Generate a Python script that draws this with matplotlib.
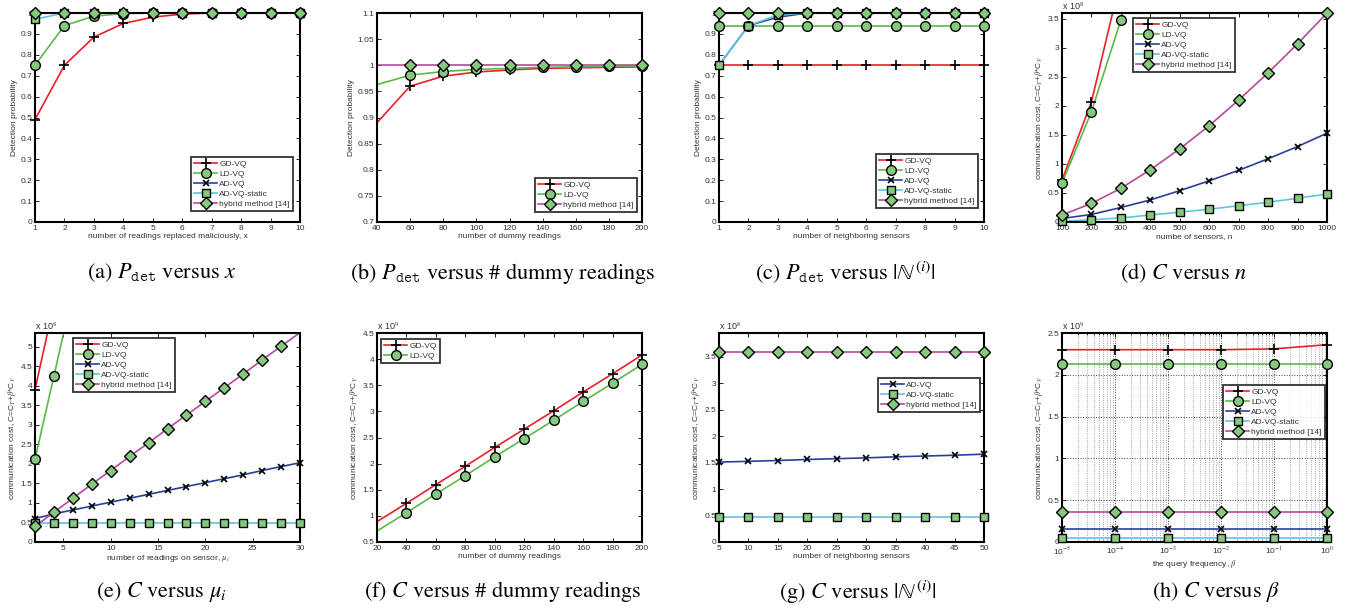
import numpy as np
import matplotlib
matplotlib.use("Agg")
import matplotlib.pyplot as plt
from matplotlib.lines import Line2D

plt.rcParams['font.family'] = ['Liberation Sans', 'DejaVu Sans']
plt.rcParams['mathtext.fontset'] = 'stix'
plt.rcParams['font.size'] = 6

W, H = 1354, 610

# ---------------- data ----------------
labels = ['GD-VQ', 'LD-VQ', 'AD-VQ', 'AD-VQ-static', 'hybrid method [14]']

# (a) detection probability vs x
a_x = [1, 2, 3, 4, 5, 6, 7, 8, 9, 10]
a_gd = [0.49, 0.75, 0.885, 0.95, 0.98, 0.995, 1.0, 1.0, 1.0, 1.0]
a_ld = [0.75, 0.94, 0.985, 0.997, 1.0, 1.0, 1.0, 1.0, 1.0, 1.0]
a_ad = [1.0] * 10
a_st = [0.97, 1.0, 1.0, 1.0, 1.0, 1.0, 1.0, 1.0, 1.0, 1.0]
a_hy = [1.0] * 10

# (b) detection probability vs number of dummy readings
b_x = [40, 60, 80, 100, 120, 140, 160, 180, 200]
b_gd = [0.89, 0.96, 0.979, 0.987, 0.991, 0.994, 0.995, 0.996, 0.997]
b_ld = [0.963, 0.981, 0.988, 0.992, 0.994, 0.996, 0.997, 0.998, 0.999]
b_hy = [1.0] * 9

# (c) detection probability vs neighboring sensors
c_x = [1, 2, 3, 4, 5, 6, 7, 8, 9, 10]
c_gd = [0.75] * 10
c_ld = [0.94] * 10
c_ad = [0.75, 0.94, 0.98, 1.0, 1.0, 1.0, 1.0, 1.0, 1.0, 1.0]
c_st = [0.75, 0.94, 0.99, 1.0, 1.0, 1.0, 1.0, 1.0, 1.0, 1.0]
c_hy = [1.0] * 10

# (d) communication cost (x1e8) vs number of sensors
d_x = [100, 200, 300, 400, 500, 600, 700, 800, 900, 1000]
d_gd = [0.72, 2.07, 4.2, 7.0, 10.5, 14.7, 19.6, 25.2, 31.5, 38.5]
d_ld = [0.67, 1.90, 3.48, 5.6, 8.2, 11.3, 14.9, 19.0, 23.6, 28.7]
d_ad = [0.06, 0.13, 0.25, 0.38, 0.54, 0.71, 0.89, 1.09, 1.30, 1.53]
d_st = [0.01, 0.04, 0.07, 0.12, 0.17, 0.22, 0.28, 0.34, 0.41, 0.48]
d_hy = [0.12, 0.32, 0.58, 0.90, 1.26, 1.66, 2.10, 2.57, 3.07, 3.60]

# (e) communication cost (x1e8) vs readings on sensor
e_x = [2, 4, 6, 8, 10, 12, 14, 16, 18, 20, 22, 24, 26, 28, 30]
e_gd = [3.9, 6.1, 8.3, 10.5, 12.7, 14.9, 17.1, 19.3, 21.5, 23.7, 25.9, 28.1, 30.3, 32.5, 34.7]
e_ld = [2.12, 4.25, 6.4, 8.5, 10.6, 12.7, 14.8, 16.9, 19.0, 21.1, 23.2, 25.3, 27.4, 29.5, 31.6]
e_ad = [0.60, 0.72, 0.82, 0.92, 1.02, 1.12, 1.22, 1.32, 1.42, 1.52, 1.62, 1.72, 1.83, 1.93, 2.03]
e_st = [0.48] * 15
e_hy = [0.40, 0.76, 1.12, 1.48, 1.83, 2.19, 2.54, 2.90, 3.25, 3.60, 3.95, 4.30, 4.66, 5.01, 5.36]

# (f) communication cost (x1e9) vs number of dummy readings
f_x = [20, 40, 60, 80, 100, 120, 140, 160, 180, 200]
f_gd = [0.89, 1.24, 1.60, 1.95, 2.31, 2.66, 3.01, 3.37, 3.72, 4.08]
f_ld = [0.71, 1.06, 1.42, 1.77, 2.13, 2.48, 2.83, 3.19, 3.54, 3.90]

# (g) communication cost (x1e8) vs neighboring sensors
g_x = [5, 10, 15, 20, 25, 30, 35, 40, 45, 50]
g_ad = [1.51, 1.525, 1.54, 1.56, 1.575, 1.59, 1.61, 1.625, 1.64, 1.66]
g_st = [0.48] * 10
g_hy = [3.60] * 10

# (h) communication cost (x1e9) vs query frequency
h_x = [1e-5, 1e-4, 1e-3, 1e-2, 1e-1, 1e0]
h_gd = [2.30, 2.30, 2.30, 2.30, 2.31, 2.36]
h_ld = [2.13] * 6
h_ad = [0.155] * 6
h_st = [0.05] * 6
h_hy = [0.36] * 6

# ---------------- styles ----------------
FACE = '#86c97e'
STY = {
    'GD-VQ': dict(color='#e8202a', marker='+', mfc='none', mec='black', ms=7.5, mew=1.2),
    'LD-VQ': dict(color='#5cb84a', marker='o', mfc=FACE, mec='black', ms=7, mew=1.0),
    'AD-VQ': dict(color='#2a3f99', marker='x', mfc='none', mec='black', ms=5, mew=1.2),
    'AD-VQ-static': dict(color='#5dc6e0', marker='s', mfc=FACE, mec='black', ms=6, mew=1.0),
    'hybrid method [14]': dict(color='#b8489c', marker='D', mfc=FACE, mec='black', ms=6, mew=1.0),
}
LW = 1.2

fig = plt.figure(figsize=(W / 100, H / 100), dpi=100)


def make_ax(l, t, w, h):
    ax = fig.add_axes([l / W, 1 - (t + h) / H, w / W, h / H])
    for s in ax.spines.values():
        s.set_linewidth(1.5)
    ax.tick_params(direction='in', top=True, right=True, length=3, width=0.6,
                   labelsize=6, pad=2, colors='black', labelcolor='#333333')
    return ax


def series(ax, x, y, name, ytop, mstart=0):
    st = STY[name]
    x = np.asarray(x, float)
    y = np.asarray(y, float)
    ax.plot(x, y, color=st['color'], lw=LW, zorder=2, clip_on=True)
    xm, ym = x[mstart:], y[mstart:]
    keep = ym <= ytop * 1.001
    ax.plot(xm[keep], ym[keep], ls='none', marker=st['marker'], mfc=st['mfc'],
            mec=st['mec'], ms=st['ms'], mew=st['mew'], zorder=3, clip_on=False)


def legend(ax, names, x0, y0):
    hs = []
    for n in names:
        st = STY[n]
        hs.append(Line2D([], [], color=st['color'], lw=LW, marker=st['marker'],
                         mfc=st['mfc'], mec=st['mec'], ms=st['ms'], mew=st['mew']))
    lg = ax.legend(hs, names, loc='upper left', bbox_to_anchor=(x0 / W, 1 - y0 / H),
                   bbox_transform=fig.transFigure, borderaxespad=0, fontsize=6,
                   frameon=True, fancybox=False, edgecolor='black', handlelength=2.7,
                   handletextpad=0.3, labelspacing=0.25, borderpad=0.4,
                   numpoints=1)
    lg.get_frame().set_linewidth(1.3)
    lg.set_zorder(10)
    for t in lg.get_texts():
        t.set_color('#333333')


def scale_label(ax, txt):
    ax.text(0.0, 1.005, txt, transform=ax.transAxes, ha='left', va='bottom',
            fontsize=6.5, color='#333333')


def caption(xc, yc, txt):
    fig.text(xc / W, 1 - yc / H, txt, ha='center', va='center', fontsize=16,
             family='STIXGeneral')


COST = r'communication cost, C=C$_T$+$\beta$*C$_V$'

# (a)
ax = make_ax(35, 13, 265, 209)
for y, n in zip([a_gd, a_ld, a_ad, a_st, a_hy], labels):
    series(ax, a_x, y, n, 1.0)
ax.set_xlim(1, 10); ax.set_ylim(0, 1)
ax.set_xticks(a_x); ax.set_yticks(np.arange(0, 1.01, 0.1))
ax.set_yticklabels(['0', '0.1', '0.2', '0.3', '0.4', '0.5', '0.6', '0.7', '0.8', '0.9', '1'])
ax.set_xlabel('number of readings replaced maliciously, x', labelpad=1, color='#333333')
ax.set_ylabel('Detection probability', labelpad=2, color='#333333')
legend(ax, labels, 191, 157)

# (b)
ax = make_ax(377, 13, 265, 209)
names_b = ['GD-VQ', 'LD-VQ', 'hybrid method [14]']
for y, n in zip([b_gd, b_ld, b_hy], names_b):
    series(ax, b_x, y, n, 1.1, mstart=1)
ax.set_xlim(40, 200); ax.set_ylim(0.7, 1.1)
ax.set_xticks(b_x); ax.set_yticks(np.arange(0.7, 1.101, 0.05))
ax.set_yticklabels(['0.7', '0.75', '0.8', '0.85', '0.9', '0.95', '1', '1.05', '1.1'])
ax.set_xlabel('number of dummy readings', labelpad=1, color='#333333')
ax.set_ylabel('Detection probability', labelpad=2, color='#333333')
legend(ax, names_b, 535, 178)

# (c)
ax = make_ax(719, 13, 265, 209)
for y, n in zip([c_gd, c_ld, c_ad, c_st, c_hy], labels):
    series(ax, c_x, y, n, 1.0)
ax.set_xlim(1, 10); ax.set_ylim(0, 1)
ax.set_xticks(c_x); ax.set_yticks(np.arange(0, 1.01, 0.1))
ax.set_yticklabels(['0', '0.1', '0.2', '0.3', '0.4', '0.5', '0.6', '0.7', '0.8', '0.9', '1'])
ax.set_xlabel('number of neighboring sensors', labelpad=1, color='#333333')
ax.set_ylabel('Detection probability', labelpad=2, color='#333333')
legend(ax, labels, 876, 154)

# (d)
ax = make_ax(1062, 13, 265, 209)
for y, n in zip([d_gd, d_ld, d_ad, d_st, d_hy], labels):
    series(ax, d_x, y, n, 3.6)
ax.set_xlim(100, 1000); ax.set_ylim(0, 3.6)
ax.set_xticks(d_x); ax.set_yticks(np.arange(0, 3.51, 0.5))
ax.set_yticklabels(['0', '0.5', '1', '1.5', '2', '2.5', '3', '3.5'])
ax.set_xlabel('numbe of sensors, n', labelpad=1, color='#333333')
ax.set_ylabel(COST, labelpad=2, color='#333333')
scale_label(ax, r'x 10$^8$')
legend(ax, labels, 1133, 18)

# (e)
ax = make_ax(35, 333, 265, 209)
for y, n in zip([e_gd, e_ld, e_ad, e_st, e_hy], labels):
    series(ax, e_x, y, n, 5.35)
ax.set_xlim(2, 30); ax.set_ylim(0, 5.35)
ax.set_xticks([5, 10, 15, 20, 25, 30]); ax.set_yticks(np.arange(0, 5.01, 0.5))
ax.set_yticklabels(['0', '0.5', '1', '1.5', '2', '2.5', '3', '3.5', '4', '4.5', '5'])
ax.set_xlabel(r'number of readings on sensor, $\mu_i$', labelpad=1, color='#333333')
ax.set_ylabel(COST, labelpad=2, color='#333333')
scale_label(ax, r'x 10$^8$')
legend(ax, labels, 73, 338)

# (f)
ax = make_ax(377, 333, 265, 209)
names_f = ['GD-VQ', 'LD-VQ']
for y, n in zip([f_gd, f_ld], names_f):
    series(ax, f_x, y, n, 4.5, mstart=1)
ax.set_xlim(20, 200); ax.set_ylim(0.5, 4.5)
ax.set_xticks(f_x); ax.set_yticks(np.arange(0.5, 4.51, 0.5))
ax.set_yticklabels(['0.5', '1', '1.5', '2', '2.5', '3', '3.5', '4', '4.5'])
ax.set_xlabel('number of dummy readings', labelpad=1, color='#333333')
ax.set_ylabel(COST, labelpad=2, color='#333333')
scale_label(ax, r'x 10$^9$')
legend(ax, names_f, 381, 339)

# (g)
ax = make_ax(719, 333, 265, 209)
names_g = ['AD-VQ', 'AD-VQ-static', 'hybrid method [14]']
for y, n in zip([g_ad, g_st, g_hy], names_g):
    series(ax, g_x, y, n, 3.95)
ax.set_xlim(5, 50); ax.set_ylim(0, 3.95)
ax.set_xticks(g_x); ax.set_yticks(np.arange(0, 3.51, 0.5))
ax.set_yticklabels(['0', '0.5', '1', '1.5', '2', '2.5', '3', '3.5'])
ax.set_xlabel('number of neighboring sensors', labelpad=1, color='#333333')
ax.set_ylabel(COST, labelpad=2, color='#333333')
scale_label(ax, r'x 10$^8$')
legend(ax, names_g, 878, 378)

# (h)
ax = make_ax(1062, 333, 265, 209)
ax.set_xscale('log')
for y, n in zip([h_gd, h_ld, h_ad, h_st, h_hy], labels):
    series(ax, h_x, y, n, 2.5)
ax.set_xlim(1e-5, 1); ax.set_ylim(0, 2.5)
ax.set_xticks(h_x)
ax.set_xticklabels([r'10$^{-5}$', r'10$^{-4}$', r'10$^{-3}$', r'10$^{-2}$', r'10$^{-1}$', r'10$^{0}$'])
ax.set_yticks(np.arange(0, 2.51, 0.5))
ax.set_yticklabels(['0', '0.5', '1', '1.5', '2', '2.5'])
ax.grid(True, which='major', ls=':', lw=0.7, color='#444444')
ax.grid(True, which='minor', axis='x', ls=':', lw=0.6, color='#888888')
ax.tick_params(which='minor', direction='in', top=True, length=1.5, width=0.5)
ax.set_axisbelow(True)
ax.set_xlabel(r'the query frequency, $\beta$', labelpad=1, color='#333333')
ax.set_ylabel(COST, labelpad=2, color='#333333')
scale_label(ax, r'x 10$^9$')
legend(ax, labels, 1223, 385)

# captions
caption(162, 273, r'(a) $P_{\mathtt{det}}$ versus $x$')
caption(503, 273, r'(b) $P_{\mathtt{det}}$ versus $\#$ dummy readings')
caption(845, 273, r'(c) $P_{\mathtt{det}}$ versus $|\mathbb{N}^{(i)}|$')
caption(1183, 273, r'(d) $C$ versus $n$')
caption(161, 592, r'(e) $C$ versus $\mu_i$')
caption(503, 592, r'(f) $C$ versus $\#$ dummy readings')
caption(858, 592, r'(g) $C$ versus $|\mathbb{N}^{(i)}|$')
caption(1216, 592, r'(h) $C$ versus $\beta$')

fig.savefig('out.png', dpi=100)
